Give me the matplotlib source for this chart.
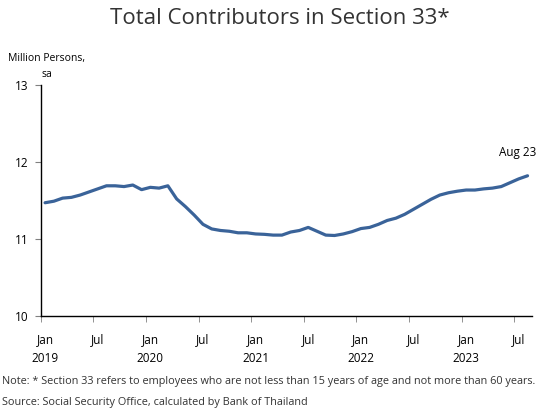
import matplotlib
matplotlib.use("Agg")
import matplotlib.pyplot as plt
import numpy as np

months = ["Jan", "Jul"]
years = ["2019", "2020", "2021", "2022", "2023"]
values = [11.47, 11.49, 11.53, 11.54, 11.57, 11.61, 11.65, 11.69, 11.69, 11.68,
          11.70, 11.64, 11.67, 11.66, 11.69, 11.52, 11.42, 11.31, 11.19, 11.13,
          11.11, 11.10, 11.08, 11.08, 11.065, 11.06, 11.05, 11.05, 11.09, 11.11,
          11.15, 11.10, 11.05, 11.045, 11.065, 11.095, 11.135, 11.15, 11.19, 11.24,
          11.27, 11.32, 11.385, 11.45, 11.515, 11.57, 11.60, 11.62, 11.635, 11.635,
          11.65, 11.66, 11.68, 11.73, 11.78, 11.82]
yticks = [10, 11, 12, 13]
last_label = "Aug 23"

plt.rcParams['font.family'] = ['Open Sans', 'DejaVu Sans']

fig = plt.figure(figsize=(5.44, 4.12), dpi=100)
ax = fig.add_axes([0.0748, 0.233, 0.903, 0.561])

x = np.arange(len(values))
ax.plot(x, values, color='#3A6399', lw=2.3, solid_capstyle='round')

ax.set_xlim(-0.5, len(values) - 0.5)
ax.set_ylim(10, 13)
ax.set_yticks(yticks)
ax.set_yticklabels([str(v) for v in yticks], fontsize=8.5)
ax.tick_params(axis='y', length=4, color='#808080', pad=5)

for s in ['top', 'right']:
    ax.spines[s].set_visible(False)
ax.spines['left'].set_linewidth(1.0)
ax.spines['bottom'].set_linewidth(1.0)

# category boundary ticks every 6 months
ax.set_xticks(np.arange(0, len(values), 6) - 0.5, minor=True)
ax.tick_params(axis='x', which='minor', length=4, color='#808080')
major = np.arange(0, len(values), 6)
labels = []
for k, p in enumerate(major):
    m = months[k % 2]
    if k % 2 == 0:
        labels.append(m + "\n" + years[k // 2])
    else:
        labels.append(m + "\n ")
ax.set_xticks(major)
ax.set_xticklabels(labels, fontsize=8.5, linespacing=1.6)
ax.tick_params(axis='x', which='major', length=0, pad=12)

ax.annotate(last_label, xy=(x[-1], values[-1]), xytext=(6, 12),
            textcoords='offset points', ha='right', va='bottom', fontsize=8.5)

fig.text(0.515, 0.955, "Total Contributors in Section 33*", ha='center', va='center',
         fontsize=16, color='#333333')
fig.text(0.015, 0.858, "Million Persons,", fontsize=7.5, ha='left', va='center')
fig.text(0.077, 0.818, "sa", fontsize=7.5, ha='left', va='center')
fig.text(0.004, 0.073, "Note: * Section 33 refers to employees who are not less than 15 years of age and not more than 60 years.",
         fontsize=7.8, ha='left', va='center', color='#333333')
fig.text(0.004, 0.022, "Source: Social Security Office, calculated by Bank of Thailand",
         fontsize=7.8, ha='left', va='center', color='#333333')

fig.savefig("out.png", dpi=100)
